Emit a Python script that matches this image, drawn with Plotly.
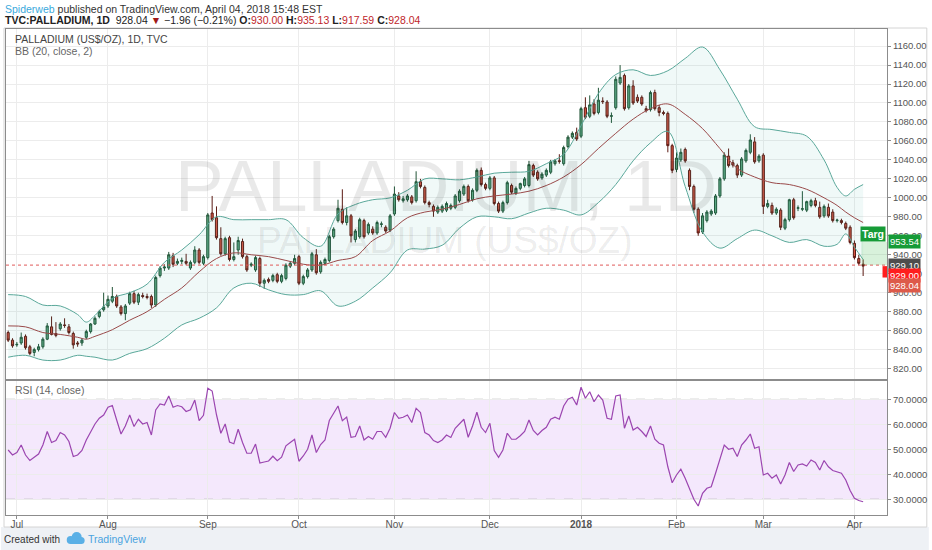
import pandas as pd
import plotly.graph_objects as go
from plotly.subplots import make_subplots

# ---------------- data ----------------
holidays = ["2018-01-01", "2018-03-30"]
dates = [d.strftime("%Y-%m-%d") for d in pd.bdate_range("2017-06-29", "2018-04-04")
         if d.strftime("%Y-%m-%d") not in holidays]

month_ticks = ["2017-07-03", "2017-08-01", "2017-09-01", "2017-10-02", "2017-11-01",
               "2017-12-01", "2018-01-02", "2018-02-01", "2018-03-01", "2018-04-02"]
month_labels = ["Jul", "Aug", "Sep", "Oct", "Nov", "Dec", "<b>2018</b>", "Feb", "Mar", "Apr"]

opens = [858, 850, 845, 847, 854, 843, 837, 840, 843, 851,
         864, 857, 862, 866, 864, 857, 847, 847, 853, 859,
         867, 875, 882, 886, 891, 896, 885, 878, 889, 899,
         890, 897, 896, 896, 887, 918, 926, 926, 939, 931,
         933, 933, 926, 932, 945, 931, 937, 984, 979, 957,
         941, 958, 935, 945, 954, 938, 929, 924, 936, 910,
         914, 913, 919, 912, 915, 928, 931, 938, 910, 917,
         924, 940, 922, 931, 934, 959, 976, 988, 974, 981,
         956, 959, 976, 963, 967, 963, 972, 969, 966, 983,
         1002, 997, 998, 1001, 997, 1017, 1011, 995, 991, 985,
         986, 987, 989, 990, 997, 1004, 1012, 998, 1008, 1029,
         1014, 1010, 1021, 994, 986, 995, 1013, 1005, 1010, 1013,
         1013, 1034, 1027, 1021, 1024, 1027, 1036, 1039, 1036, 1054,
         1064, 1069, 1065, 1095, 1086, 1099, 1090, 1102, 1101, 1086,
         1095, 1121, 1129, 1095, 1118, 1106, 1106, 1094, 1093, 1111,
         1095, 1090, 1089, 1055, 1030, 1040, 1051, 1029, 1012, 988,
         964, 976, 983, 984, 1002, 1020, 1044, 1037, 1034, 1024,
         1039, 1048, 1059, 1039, 1045, 991, 992, 984, 987, 968,
         977, 998, 989, 988, 987, 992, 997, 990, 981, 990,
         985, 976, 976, 973, 969, 952, 936, 930]

highs = [860, 852, 848, 858, 856, 845, 842, 846, 853, 868,
         875, 869, 869, 873, 867, 859, 849, 852, 861, 868,
         875, 882, 900, 897, 906, 898, 887, 888, 901, 902,
         900, 900, 899, 898, 918, 928, 930, 943, 942, 936,
         937, 941, 934, 949, 947, 940, 984, 1002, 991, 969,
         959, 960, 953, 959, 957, 940, 932, 939, 938, 915,
         916, 920, 921, 920, 931, 933, 940, 940, 919, 926,
         943, 946, 934, 937, 961, 969, 998, 1009, 990, 983,
         967, 979, 978, 974, 970, 976, 975, 971, 983, 1012,
         1006, 1002, 1004, 1003, 1028, 1020, 1013, 997, 993, 992,
         993, 996, 994, 1004, 1009, 1014, 1014, 1010, 1031, 1032,
         1016, 1023, 1023, 996, 997, 1018, 1015, 1012, 1016, 1022,
         1039, 1036, 1029, 1027, 1031, 1040, 1041, 1046, 1055, 1066,
         1070, 1074, 1096, 1106, 1108, 1104, 1116, 1106, 1103, 1090,
         1128, 1140, 1131, 1120, 1124, 1109, 1108, 1097, 1113, 1114,
         1098, 1092, 1091, 1057, 1048, 1052, 1053, 1031, 1014, 990,
         984, 987, 988, 1004, 1022, 1048, 1052, 1040, 1036, 1043,
         1052, 1067, 1064, 1046, 1047, 998, 995, 990, 989, 979,
         999, 1000, 992, 1007, 997, 999, 1000, 996, 993, 994,
         988, 978, 978, 975, 971, 955, 940, 935.13]

lows = [848, 842, 843, 845, 840, 834, 833, 838, 841, 850,
        855, 853, 860, 863, 856, 841, 843, 844, 851, 857,
        866, 873, 880, 884, 889, 884, 876, 871, 887, 888,
        887, 894, 893, 884, 885, 916, 923, 924, 927, 929,
        930, 929, 924, 930, 930, 929, 935, 975, 956, 939,
        939, 933, 933, 940, 936, 922, 927, 922, 906, 904,
        910, 911, 910, 910, 913, 926, 929, 908, 908, 915,
        922, 919, 920, 929, 932, 957, 974, 972, 971, 953,
        953, 957, 957, 961, 961, 961, 969, 963, 964, 981,
        996, 995, 996, 993, 995, 1010, 993, 990, 980, 983,
        984, 985, 987, 988, 995, 1002, 995, 996, 1006, 1012,
        1008, 1008, 992, 984, 984, 993, 1004, 1003, 1008, 1011,
        1011, 1022, 1018, 1019, 1022, 1025, 1034, 1036, 1034, 1052,
        1062, 1060, 1063, 1083, 1084, 1087, 1088, 1099, 1084, 1079,
        1093, 1119, 1092, 1093, 1098, 1100, 1097, 1090, 1091, 1092,
        1086, 1087, 1048, 1026, 1027, 1038, 1037, 1008, 984, 960,
        962, 974, 981, 982, 1000, 1018, 1032, 1032, 1021, 1022,
        1037, 1046, 1036, 1037, 983, 989, 982, 982, 966, 966,
        975, 977, 986, 986, 985, 990, 990, 978, 979, 979,
        974, 974, 972, 966, 951, 935, 929, 917.59]

closes = [850, 844, 845.5, 853, 842, 836, 840, 843, 851, 865,
          856, 855, 867, 865.5, 858, 845, 846, 850, 859, 867,
          873, 880, 885, 893, 896, 886, 878, 886, 899, 890,
          898, 896, 895, 887, 916, 926, 927, 940, 930, 933,
          934, 931, 932, 945, 932, 938, 982, 977, 958, 941,
          957, 935, 938, 955, 938, 924, 930, 937, 910, 913,
          912, 918, 912, 918, 929, 931, 936, 910, 917, 924,
          941, 921, 932, 935, 959, 967, 989, 974, 981, 960,
          965, 977, 959, 972, 963, 974, 972.5, 965, 981, 1004,
          998, 999, 1002, 995, 1017, 1012, 995, 993, 986, 990,
          991, 994, 992, 1002, 1007, 1012, 997, 1008, 1029, 1014,
          1010, 1021, 994, 986, 995, 1016, 1006, 1010, 1015, 1020,
          1035, 1024, 1020, 1025, 1029, 1038, 1039, 1038.5, 1053, 1064,
          1068, 1062, 1094, 1085, 1098, 1089, 1103, 1101.5, 1086, 1086.5,
          1125, 1127, 1094, 1118, 1100, 1102, 1099, 1092, 1111, 1094,
          1090, 1089, 1055, 1029, 1042, 1048, 1039, 1012, 988, 963,
          981, 985, 986, 1002, 1020, 1045, 1034, 1034.5, 1024, 1041,
          1050, 1061, 1038, 1044, 991, 994, 984, 988, 969, 977,
          998, 979, 989.5, 988.5, 996, 997, 992, 980, 991, 981,
          976, 976.5, 974, 968, 953, 937, 931, 928.04]

rsi = [49.7, 47.7, 48.7, 51.7, 47.7, 45.5, 46.8, 48.1, 51.7, 57.1,
       52.7, 53.5, 56.7, 55.7, 53.1, 47.1, 47.7, 49.5, 53.7, 57.1,
       60.1, 62.4, 63.7, 66.8, 67.5, 61.7, 56.1, 59.3, 63.7, 59.1,
       62.0, 60.1, 60.7, 55.7, 65.7, 68.1, 67.7, 71.3, 66.8, 67.5,
       67.0, 65.1, 65.8, 69.7, 61.5, 63.6, 74.4, 73.3, 63.8, 56.4,
       60.1, 52.9, 52.2, 58.0, 52.7, 48.4, 48.4, 52.1, 44.5, 44.9,
       45.3, 47.2, 45.4, 46.8, 51.4, 52.7, 54.0, 45.2, 47.3, 50.0,
       55.7, 48.7, 51.9, 53.7, 61.5, 64.4, 67.3, 61.4, 62.9, 54.8,
       55.1, 59.3, 53.7, 55.1, 54.0, 57.1, 57.1, 54.8, 58.4, 64.7,
       62.4, 62.8, 63.7, 60.7, 66.4, 64.7, 56.7, 55.7, 53.5, 52.7,
       53.7, 55.7, 54.7, 58.4, 60.4, 62.0, 54.8, 59.3, 64.8, 58.8,
       56.7, 60.4, 49.5, 46.8, 49.7, 56.4, 54.0, 54.0, 55.4, 57.1,
       61.7, 57.5, 55.7, 57.5, 58.8, 62.0, 62.8, 62.0, 67.3, 70.0,
       70.8, 67.7, 74.8, 70.4, 73.0, 69.0, 71.7, 69.7, 62.4, 62.0,
       71.3, 71.7, 58.4, 63.3, 57.7, 58.8, 57.1, 55.1, 59.3, 54.0,
       52.4, 51.7, 43.0, 36.6, 39.7, 42.0, 38.4, 34.0, 30.0, 27.3,
       32.4, 34.4, 35.0, 40.4, 45.7, 51.7, 50.0, 50.4, 47.1, 51.7,
       53.7, 56.1, 50.4, 51.0, 39.7, 40.4, 38.4, 39.7, 36.1, 39.7,
       44.7, 41.1, 43.7, 44.1, 43.3, 45.7, 44.7, 41.7, 45.5, 43.0,
       41.5, 41.0, 40.4, 37.7, 33.5, 30.4, 29.5, 29.0]

bb_bars = [0, 4, 8, 12, 16, 18, 20, 24, 28, 32, 36, 40, 44, 48, 52, 56, 60, 64, 68, 72,
           76, 80, 84, 88, 92, 96, 100, 104, 108, 112, 116, 120, 124, 128, 132, 136, 140,
           144, 148, 152, 156, 160, 164, 168, 172, 176, 180, 184, 188, 191, 193, 195, 197]
bb_upper = [898, 896, 887, 886, 877, 869, 876, 894, 900, 909, 932, 945, 961, 980, 977, 977,
            977, 977, 958, 949, 983, 993, 998, 1000, 1008, 1020, 1020, 1019, 1022, 1026,
            1027, 1028, 1036, 1046, 1076, 1110, 1130, 1135, 1129, 1134, 1147, 1159, 1135,
            1104, 1075, 1072, 1069, 1065, 1040, 1011, 1002, 1009, 1014]
bb_basis = [865, 864, 858, 856, 853, 851, 854, 861, 871, 880, 893, 905, 922, 936, 942, 940,
            938, 934, 930, 929, 934, 938, 955, 965, 979, 985, 988, 993, 999, 1002, 1004,
            1007, 1013, 1022, 1035, 1052, 1068, 1083, 1094, 1099, 1088, 1073, 1052, 1031,
            1022, 1016, 1014, 1009, 1000, 992, 985, 979, 974]
bb_lower = [832, 834, 829, 829, 834, 833, 832, 829, 836, 841, 852, 866, 873, 884, 905, 910,
            903, 898, 898, 902, 886, 891, 905, 921, 945, 946, 950, 968, 980, 980, 978, 984,
            989, 987, 982, 995, 1014, 1039, 1058, 1070, 1012, 964, 947, 957, 966, 960, 953,
            956, 949, 951, 962, 948, 935]

last_price = 929.10
target_price = 953.54

# ---------------- figure ----------------
GRID = "#ececec"
FRAME = "#8c8c8c"
TXT = "#4a4a4a"
FONT = "Liberation Sans"


def px(X):
    return (X - 5) / 885


def py(Y):
    return (515 - Y) / 486


fig = make_subplots(rows=2, cols=1, shared_xaxes=True, vertical_spacing=0.004,
                    row_heights=[350, 134])

bb_x = [dates[i] for i in bb_bars]
fig.add_trace(go.Scatter(x=bb_x, y=bb_lower, mode="lines", line=dict(color="#5aa89a", width=1, shape="spline"),
                         hoverinfo="skip"), row=1, col=1)
fig.add_trace(go.Scatter(x=bb_x, y=bb_upper, mode="lines", line=dict(color="#5aa89a", width=1, shape="spline"),
                         fill="tonexty", fillcolor="rgba(38,166,154,0.07)", hoverinfo="skip"), row=1, col=1)
fig.add_trace(go.Scatter(x=bb_x, y=bb_basis, mode="lines", line=dict(color="#9a4a4a", width=1, shape="spline"),
                         hoverinfo="skip"), row=1, col=1)

fig.add_trace(go.Candlestick(x=dates, open=opens, high=highs, low=lows, close=closes,
                             increasing=dict(fillcolor="#5fa882", line=dict(color="#225437", width=1)),
                             decreasing=dict(fillcolor="#d75442", line=dict(color="#5b1a13", width=1)),
                             whiskerwidth=0), row=1, col=1)

fig.add_trace(go.Scatter(x=dates, y=rsi, mode="lines", line=dict(color="#9b45b0", width=1.2),
                         hoverinfo="skip"), row=2, col=1)

shapes = []
# RSI band 30-70
shapes.append(dict(type="rect", xref="x2 domain", yref="y2", x0=0, x1=1, y0=30, y1=70,
                   fillcolor="#f4e8fc", line=dict(width=0), layer="below"))
for lv in (30, 70):
    shapes.append(dict(type="line", xref="x2 domain", yref="y2", x0=0, x1=1, y0=lv, y1=lv,
                       line=dict(color="#b0b0b0", width=1, dash="dash"), layer="below"))
# last price dotted line
shapes.append(dict(type="line", xref="x domain", yref="y", x0=0, x1=1, y0=last_price, y1=last_price,
                   line=dict(color="#e05a5a", width=1, dash="dot")))
# position tool (target zone)
shapes.append(dict(type="rect", xref="x", yref="y", x0=196.6, x1=202.5, y0=last_price, y1=target_price,
                   fillcolor="rgba(76,190,90,0.22)", line=dict(width=0)))
# small red stop tab at axis edge
shapes.append(dict(type="rect", xref="paper", yref="y", x0=px(885.5), x1=1.0, y0=916, y1=928,
                   fillcolor="#ff1e1e", line=dict(width=0)))
# outer chart frame and footer band
shapes.append(dict(type="rect", xref="paper", yref="paper", x0=px(0), x1=px(932), y0=py(550), y1=py(527),
                   fillcolor="#eef1f5", line=dict(width=0), layer="below"))
shapes.append(dict(type="rect", xref="paper", yref="paper", x0=px(3), x1=px(930), y0=py(527), y1=py(28),
                   fillcolor="rgba(0,0,0,0)", line=dict(color="#d4d4d4", width=1), layer="below"))
# TradingView cloud logo (footer)
LOGO = "#5ab0e6"
for cx, cy, r in [(70.0, 540.0, 4.0), (76.0, 537.0, 5.0), (80.5, 540.5, 3.5)]:
    shapes.append(dict(type="circle", xref="paper", yref="paper",
                       x0=px(cx - r), x1=px(cx + r), y0=py(cy + r), y1=py(cy - r),
                       fillcolor=LOGO, line=dict(width=0)))
shapes.append(dict(type="rect", xref="paper", yref="paper", x0=px(70), x1=px(81),
                   y0=py(544), y1=py(539), fillcolor=LOGO, line=dict(width=0)))

ann = []
# header
ann.append(dict(xref="paper", yref="paper", x=-0.003, y=py(8.5), xanchor="left", yanchor="middle",
                showarrow=False, font=dict(family=FONT, size=10.5, color="#333"),
                text="<span style='color:#3aa9dc'>Spiderweb</span> published on TradingView.com, April 04, 2018 15:48 EST"))
ann.append(dict(xref="paper", yref="paper", x=-0.003, y=py(20), xanchor="left", yanchor="middle",
                showarrow=False, font=dict(family=FONT, size=10.5, color="#222"),
                text="<b>TVC:PALLADIUM, 1D</b>  928.04 <span style='color:#a01818'>▼</span> −1.96 (−0.21%) "
                     "<b>O:</b><span style='color:#c0262b'>930.00</span> <b>H:</b><span style='color:#c0262b'>935.13</span> "
                     "<b>L:</b><span style='color:#c0262b'>917.59</span> <b>C:</b><span style='color:#c0262b'>928.04</span>"))
# legends inside panes
ann.append(dict(xref="paper", yref="paper", x=0.008, y=0.979, xanchor="left", yanchor="middle",
                showarrow=False, font=dict(family=FONT, size=10.5, color="#444"),
                text="PALLADIUM (US$/OZ), 1D, TVC"))
ann.append(dict(xref="paper", yref="paper", x=0.008, y=0.955, xanchor="left", yanchor="middle",
                showarrow=False, font=dict(family=FONT, size=10.5, color="#666"),
                text="BB (20, close, 2)"))
ann.append(dict(xref="paper", yref="paper", x=0.008, y=0.257, xanchor="left", yanchor="middle",
                showarrow=False, font=dict(family=FONT, size=10.5, color="#666"),
                text="RSI (14, close)"))
# watermark
ann.append(dict(xref="paper", yref="paper", x=0.4995, y=0.679, xanchor="center", yanchor="middle",
                showarrow=False, font=dict(family=FONT, size=73, color="rgba(0,0,0,0.085)"),
                text="PALLADIUM, 1D"))
ann.append(dict(xref="paper", yref="paper", x=0.4985, y=0.564, xanchor="center", yanchor="middle",
                showarrow=False, font=dict(family=FONT, size=37, color="rgba(0,0,0,0.085)"),
                text="PALLADIUM (US$/OZ)"))
# target label
ann.append(dict(xref="paper", yref="y", x=px(863), y=961.5, xanchor="left", yanchor="middle",
                showarrow=False, font=dict(family=FONT, size=10.5, color="white"),
                text="<b>Targ</b>", bgcolor="#169b37", borderpad=1))
# price-axis value labels
for val_y, txt, col in [(953.7, "953.54", "#169b37"), (929.0, "929.10", "#4d4d4d"),
                        (918.4, "929.00", "#ff1e1e"), (907.9, "928.04", "#dd5a4a")]:
    ann.append(dict(xref="paper", yref="y", x=1.0, y=val_y, xanchor="left", yanchor="middle",
                    showarrow=False, font=dict(family=FONT, size=9.5, color="white"),
                    text=txt, bgcolor=col, borderpad=1, xshift=1))
# footer
ann.append(dict(xref="paper", yref="paper", x=-0.004, y=py(539), xanchor="left", yanchor="middle",
                showarrow=False, font=dict(family=FONT, size=10, color="#333"), text="Created with"))
ann.append(dict(xref="paper", yref="paper", x=px(85), y=py(539), xanchor="left", yanchor="middle",
                showarrow=False, font=dict(family=FONT, size=10.5, color="#4aa3df"), text="TradingView"))

fig.update_layout(
    width=932, height=550,
    margin=dict(l=5, r=42, t=29, b=35),
    paper_bgcolor="white", plot_bgcolor="white",
    showlegend=False,
    font=dict(family=FONT, size=10, color=TXT),
    shapes=shapes, annotations=ann,
    hovermode=False,
)

axis_common = dict(showline=True, mirror=True, linecolor=FRAME, linewidth=1,
                   showgrid=True, gridcolor=GRID, gridwidth=1, zeroline=False)

fig.update_xaxes(type="category", categoryorder="array", categoryarray=dates,
                 range=[-0.5, 202.5], tickvals=month_ticks, ticktext=month_labels,
                 **axis_common)
fig.update_xaxes(showticklabels=False, ticks="", rangeslider=dict(visible=False), row=1, col=1)
fig.update_xaxes(ticks="outside", ticklen=3, tickcolor=FRAME, ticklabelstandoff=-3,
                 tickfont=dict(family=FONT, size=10, color="#555"), row=2, col=1)

fig.update_yaxes(side="right", range=[809, 1178], dtick=20, tick0=0, tickformat=".2f",
                 ticks="outside", ticklen=3, tickcolor=FRAME,
                 tickfont=dict(family=FONT, size=9.5, color="#555"), domain=[0.2798, 1.0],
                 row=1, col=1, **axis_common)
fig.update_yaxes(side="right", range=[23.7, 77.3], tickvals=[30, 40, 50, 60, 70], tickformat=".4f",
                 ticks="outside", ticklen=3, tickcolor=FRAME,
                 tickfont=dict(family=FONT, size=9.5, color="#555"), domain=[0.0, 0.2757],
                 row=2, col=1, **axis_common)

fig.write_html("out.html", config={"displayModeBar": False},
               post_script="document.body.style.margin='0px';document.body.style.overflow='hidden';")
